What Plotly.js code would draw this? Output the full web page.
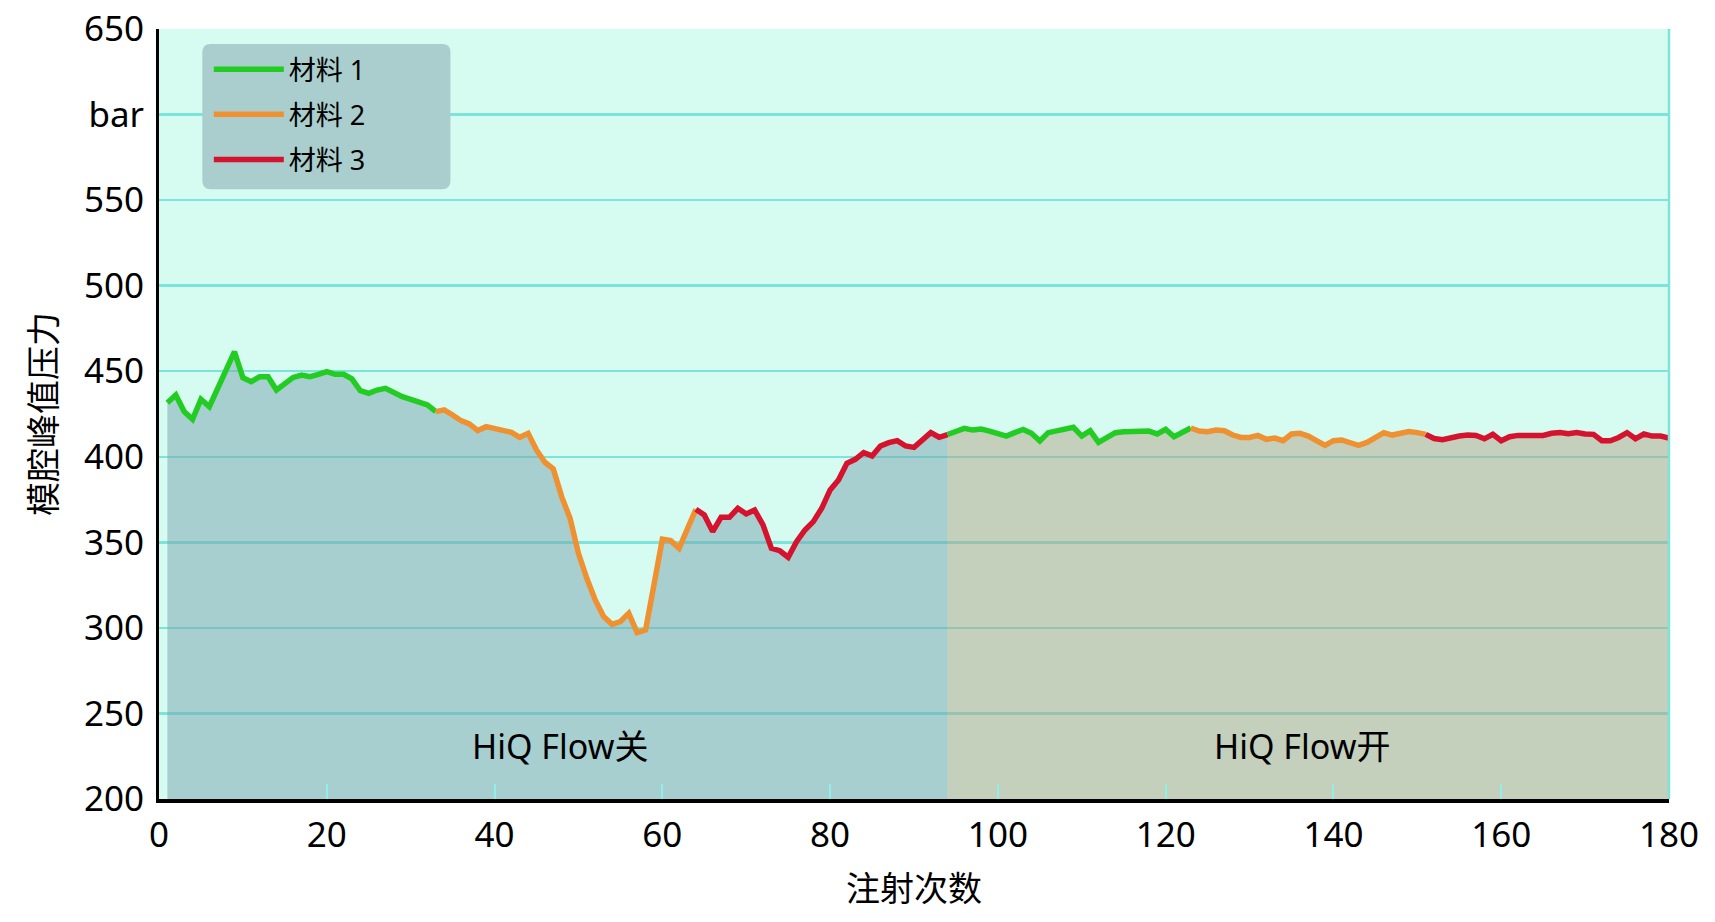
<!DOCTYPE html>
<html>
<head>
<meta charset="utf-8">
<script src="https://cdn.plot.ly/plotly-3.0.1.min.js"></script>
<style>
  html, body { margin: 0; padding: 0; background: #ffffff; }
  #chart { width: 1715px; height: 922px; }
</style>
</head>
<body>
<div id="chart"></div>
<script>
// Peak cavity pressure (bar) per shot, shots 1..180
const pressure = [
  431.6, 436.1, 426.4, 421.9, 433.6, 429.3, 440.0, 450.7, 461.4, 446.2,
  443.9, 446.8, 446.8, 439.0, 442.3, 446.4, 447.8, 446.8, 448.2, 449.7,
  448.2, 448.2, 445.5, 438.6, 437.1, 439.0, 440.0, 437.5, 435.1, 433.6,
  431.8, 430.3, 426.4, 427.4, 424.4, 421.1, 419.2, 415.3, 417.6, 416.6,
  415.7, 414.3, 411.4, 413.7, 404.0, 396.8, 392.9, 376.7, 364.0, 343.6,
  329.0, 316.3, 306.6, 302.1, 303.7, 308.5, 297.2, 298.8, 325.1, 351.8,
  351.0, 346.5, 358.0, 369.3, 366.0, 356.3, 364.6, 364.6, 369.9, 366.6,
  368.9, 360.2, 346.5, 345.1, 341.3, 350.4, 357.2, 362.1, 369.9, 380.6,
  386.4, 396.2, 398.5, 402.4, 400.5, 406.3, 408.3, 409.4, 406.3, 405.5,
  410.2, 414.1, 411.4, 413.0, 415.2, 416.6, 415.6, 416.2, 415.0, 413.3,
  412.1, 414.1, 416.0, 413.7, 409.2, 414.1, 415.2, 415.6, 417.2, 412.1,
  415.2, 408.4, 411.3, 414.1, 414.6, 414.6, 415.2, 415.0, 413.3, 416.0,
  411.7, 414.6, 416.8, 415.0, 414.6, 415.6, 415.2, 412.7, 411.3, 411.3,
  412.5, 410.2, 410.9, 409.4, 413.3, 413.7, 412.1, 409.8, 406.7, 409.4,
  409.8, 408.2, 406.7, 408.4, 411.3, 414.1, 412.7, 413.7, 414.8, 414.1,
  413.1, 410.7, 410.0, 411.3, 412.1, 412.7, 412.5, 410.5, 413.1, 409.4,
  411.7, 412.5, 412.5, 412.5, 412.5, 413.7, 414.2, 413.5, 414.2, 413.3,
  413.1, 409.4, 409.4, 411.3, 414.1, 410.5, 413.3, 412.1, 412.1, 410.9
];
const firstShot = 1;
const shots = pressure.map((_, i) => firstShot + i);

// Material segments (shot ranges, inclusive)
const materials = ['材料 1', '材料 2', '材料 3'];
const materialColors = ['#22cc22', '#ef9130', '#d5132e'];
const segStart = [1, 33, 64, 94, 123, 151];
const segEnd   = [33, 64, 94, 123, 151, 180];
const segMaterial = [0, 1, 2, 0, 1, 2];

// HiQ Flow regions
const regionStart = [1, 94];
const regionEnd   = [94, 180];
const regionLabels = ['HiQ Flow关', 'HiQ Flow开'];
const regionLabelX = [47.8, 136.2];
const regionFill = ['rgba(120,164,174,0.5)', 'rgba(178,163,136,0.5)'];
const regionLabelY = 231;

// Axis ticks
const xTicks = [0, 20, 40, 60, 80, 100, 120, 140, 160, 180];
const yTicks = [200, 250, 300, 350, 400, 450, 500, 550, 600, 650];
const yTickText = ['200', '250', '300', '350', '400', '450', '500', '550', 'bar', '650'];

const FONT = 'Noto Sans, Noto Sans CJK SC, sans-serif';

function sliceRange(a, b) {
  const i0 = shots.indexOf(a), i1 = shots.indexOf(b);
  return { x: shots.slice(i0, i1 + 1), y: pressure.slice(i0, i1 + 1) };
}

const traces = [];
regionStart.forEach((s, k) => {
  const r = sliceRange(s, regionEnd[k]);
  traces.push({
    type: 'scatter', mode: 'lines', x: r.x, y: r.y,
    fill: 'tozeroy', fillcolor: regionFill[k],
    line: { width: 0, color: 'rgba(0,0,0,0)' },
    showlegend: false, hoverinfo: 'skip'
  });
});
const shown = {};
segStart.forEach((s, k) => {
  const r = sliceRange(s, segEnd[k]);
  const m = segMaterial[k];
  traces.push({
    type: 'scatter', mode: 'lines', x: r.x, y: r.y,
    name: materials[m], legendgroup: 'm' + m,
    showlegend: !shown[m],
    line: { color: materialColors[m], width: 5.5 }
  });
  shown[m] = true;
});

// legend box as rounded rect in paper coords
const bx0 = 0.0287, bx1 = 0.193, by0 = 0.792, by1 = 0.9805, rx = 0.0055, ry = 0.011;
const legendBox = `M ${bx0 + rx},${by0} L ${bx1 - rx},${by0} Q ${bx1},${by0} ${bx1},${by0 + ry} ` +
  `L ${bx1},${by1 - ry} Q ${bx1},${by1} ${bx1 - rx},${by1} L ${bx0 + rx},${by1} Q ${bx0},${by1} ${bx0},${by1 - ry} ` +
  `L ${bx0},${by0 + ry} Q ${bx0},${by0} ${bx0 + rx},${by0} Z`;

const layout = {
  width: 1715, height: 922,
  margin: { l: 159, r: 46, t: 29, b: 123 },
  paper_bgcolor: '#ffffff',
  plot_bgcolor: '#d6fbf0',
  font: { family: FONT, color: '#000000' },
  showlegend: true,
  legend: {
    x: 0.033, y: 0.979, xanchor: 'left', yanchor: 'top',
    bgcolor: 'rgba(0,0,0,0)', borderwidth: 0,
    font: { size: 27, family: FONT, color: '#000000' },
    traceorder: 'grouped', tracegroupgap: 7, itemwidth: 70
  },
  xaxis: {
    range: [0, 180], tickvals: xTicks, ticktext: xTicks.map(String),
    showgrid: false, zeroline: false,
    showline: true, linecolor: '#000000', linewidth: 4,
    ticks: 'inside', ticklen: 15, tickwidth: 2, tickcolor: '#8ff0ea',
    tickfont: { size: 35, family: FONT, color: '#000000' },
    ticklabelstandoff: 2,
    title: { text: '注射次数', font: { size: 34, family: FONT, color: '#000000' }, standoff: 22 }
  },
  yaxis: {
    range: [200, 650], tickvals: yTicks, ticktext: yTickText,
    showgrid: true, gridcolor: '#7de4da', gridwidth: 2.5,
    zeroline: false, showline: true, linecolor: '#000000', linewidth: 3,
    ticks: '', tickfont: { size: 35, family: FONT, color: '#000000' },
    ticklabelstandoff: 5,
    title: { text: '模腔峰值压力', font: { size: 34, family: FONT, color: '#000000' }, standoff: 18 }
  },
  shapes: [
    { type: 'line', xref: 'paper', yref: 'paper', x0: 1, x1: 1, y0: 0, y1: 1,
      line: { color: '#7de4da', width: 2.5 } },
    { type: 'path', xref: 'paper', yref: 'paper', path: legendBox,
      fillcolor: '#a9cecd', line: { width: 0 }, layer: 'above' }
  ],
  annotations: regionLabels.map((t, k) => ({
    x: regionLabelX[k], y: regionLabelY, xref: 'x', yref: 'y',
    text: t, showarrow: false,
    font: { size: 34, family: FONT, color: '#000000' }
  }))
};

Plotly.newPlot('chart', traces, layout, { displayModeBar: false, staticPlot: true });
</script>
</body>
</html>
